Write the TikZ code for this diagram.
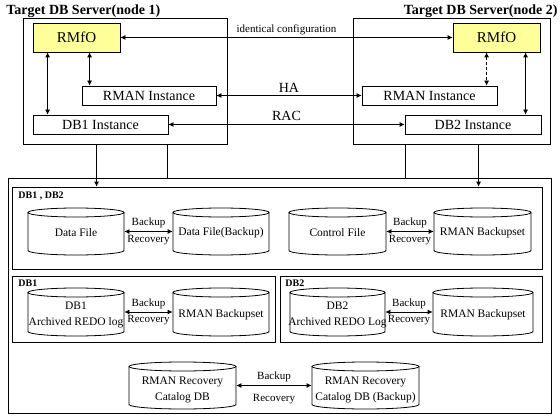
\documentclass[tikz,border=0pt]{standalone}
\usepackage{fontspec}
\setmainfont{Liberation Serif}
\usetikzlibrary{arrows.meta,fit,calc}
\definecolor{rmfoyellow}{RGB}{255,255,153}
\newcommand\cylry{4.5}
\newcommand\mycyl[7]{%
  \pgfmathsetmacro\cylcx{(#2+#4)/2}%
  \pgfmathsetmacro\cylrx{(#4-#2)/2}%
  \pgfmathsetmacro\cylta{#3+\cylry}%
  \pgfmathsetmacro\cylbb{#5-\cylry}%
  \draw[cylline] (\cylcx,\cylta) ellipse[x radius=\cylrx, y radius=\cylry];
  \draw[cylline] (#2,\cylta) -- (#2,\cylbb) arc[start angle=180, end angle=0, x radius=\cylrx, y radius=\cylry] -- (#4,\cylta);
  \node[fit={(#2,#3)(#4,#5)}, inner sep=0pt] (#1) {};
  \node[cyltext] (#1t) at ([yshift=#6]#1.center) {#7};
}
\begin{document}
\begin{tikzpicture}[x=1pt,y=-1pt, line width=0.8pt,
  box/.style={draw, rectangle, inner sep=0pt},
  cylline/.style={draw, line width=0.8pt},
  cyltext/.style={align=center, inner sep=0pt, font=\fontsize{11.5}{16}\selectfont},
  title/.style={inner sep=0pt, font=\fontsize{14}{16}\selectfont\bfseries},
  grp/.style={inner sep=0pt, font=\fontsize{10}{12}\selectfont\bfseries},
  inst/.style={box, minimum height=19pt, font=\fontsize{14}{16}\selectfont},
  rmfo/.style={box, fill=rmfoyellow, minimum width=87pt, minimum height=29pt, font=\fontsize{15}{18}\selectfont},
  dbl/.style={{Latex[length=5pt,width=5pt]}-{Latex[length=5pt,width=5pt]}},
  arr/.style={-{Latex[length=5pt,width=5pt]}},
  lbl/.style={font=\fontsize{14}{16}\selectfont, inner sep=3pt},
  smalllbl/.style={font=\fontsize{11}{12}\selectfont, inner sep=2.5pt},
  cyllbl/.style={font=\fontsize{11}{13}\selectfont, inner sep=3pt}
]
\fill[white] (0,0) rectangle (560,420);
\useasboundingbox (0,0) rectangle (560,420);

% titles
\node[title, anchor=west] (t1) at (6,11) {Target DB Server(node 1)};
\node[title, anchor=east] (t2) at (558,11) {Target DB Server(node 2)};

% servers
\node[box, fit={(23,18)(227,144)}] (srv1) {};
\node[box, fit={(353,18)(550,144)}] (srv2) {};
\node[rmfo] (rmfo1) at (76.5,37.5) {RMfO};
\node[rmfo] (rmfo2) at (496.5,37.5) {RMfO};
\node[inst, minimum width=134pt] (rman1) at (149,95.5) {RMAN Instance};
\node[inst, minimum width=135pt] (rman2) at (429.5,95.5) {RMAN Instance};
\node[inst, minimum width=135pt] (db1i) at (100.5,124.5) {DB1 Instance};
\node[inst, minimum width=136pt] (db2i) at (473,124.5) {DB2 Instance};

% inter-server connectors
\draw[dbl] (rmfo1) -- (rmfo2) node[midway, above, smalllbl] (lid) {identical configuration};
\draw[dbl] (rman1) -- (rman2) node[midway, above, lbl] (lha) {HA};
\draw[dbl] (db1i) -- (db2i) node[midway, above, lbl] (lrac) {RAC};

% inner server connectors
\draw[dbl] ([xshift=15pt]rmfo1.south west) -- ([xshift=15pt]rmfo1.south west |- db1i.north);
\draw[dbl] ([xshift=57pt]rmfo1.south west) -- ([xshift=57pt]rmfo1.south west |- rman1.north);
\draw[dbl, dash pattern=on 3pt off 2pt] ([xshift=34pt]rmfo2.south west) -- ([xshift=34pt]rmfo2.south west |- rman2.north);
\draw[dbl] ([xshift=73pt]rmfo2.south west) -- ([xshift=73pt]rmfo2.south west |- db2i.north);

% storage boxes
\node[box, fit={(8,178)(551,413)}] (store) {};
\node[box, fit={(12,187)(542,269)}] (g12) {};
\node[box, fit={(12,276)(275,342)}] (g1) {};
\node[box, fit={(280,276)(542,342)}] (g2) {};
\node[grp, anchor=west] (l12) at (18,196) {DB1 , DB2};
\node[grp, anchor=west] (l1) at (18,283) {DB1};
\node[grp, anchor=west] (l2) at (285,283) {DB2};

% server to storage
\draw[arr] ([xshift=74pt]srv1.south west) -- ([xshift=74pt]srv1.south west |- g12.north);
\draw ([xshift=145pt]srv1.south west) -- ([xshift=145pt]srv1.south west |- store.north);
\draw ([xshift=53pt]srv2.south west) -- ([xshift=53pt]srv2.south west |- store.north);
\draw[arr] ([xshift=126pt]srv2.south west) -- ([xshift=126pt]srv2.south west |- g12.north);

% cylinders
\mycyl{df}{28}{208}{124}{255}{-1.5pt}{Data File}
\mycyl{dfb}{173}{208}{269}{255}{-1.5pt}{Data File(Backup)}
\mycyl{cf}{289}{208}{386}{255}{-1.5pt}{Control File}
\mycyl{rbA}{434}{208}{531}{255}{-1.5pt}{RMAN Backupset}
\mycyl{arcA}{28}{288}{124}{336}{-3pt}{DB1\\Archived REDO log}
\mycyl{rbB}{173}{288}{269}{336}{-3pt}{RMAN Backupset}
\mycyl{arcB}{290}{288}{385}{336}{-3pt}{DB2\\Archived REDO Log}
\mycyl{rbC}{433}{288}{533}{336}{-3pt}{RMAN Backupset}
\mycyl{cat}{129}{362}{236}{409}{-4pt}{RMAN Recovery\\Catalog DB}
\mycyl{catb}{312}{362}{419}{409}{-4pt}{RMAN Recovery\\Catalog DB (Backup)}

% backup / recovery connectors
\draw[dbl] (df) -- (dfb) node[midway, above, cyllbl] (b1) {Backup} node[midway, below, cyllbl] (r1) {Recovery};
\draw[dbl] (cf) -- (rbA) node[midway, above, cyllbl] (b2) {Backup} node[midway, below, cyllbl] (r2) {Recovery};
\draw[dbl] (arcA) -- (rbB) node[midway, above, cyllbl] (b3) {Backup} node[midway, below, cyllbl] (r3) {Recovery};
\draw[dbl] (arcB) -- (rbC) node[midway, above, cyllbl] (b4) {Backup} node[midway, below, cyllbl] (r4) {Recovery};
\draw[dbl] (cat) -- (catb) node[midway, above, cyllbl] (b5) {Backup} node[midway, below=5pt, cyllbl] (r5) {Recovery};
\end{tikzpicture}
\end{document}
